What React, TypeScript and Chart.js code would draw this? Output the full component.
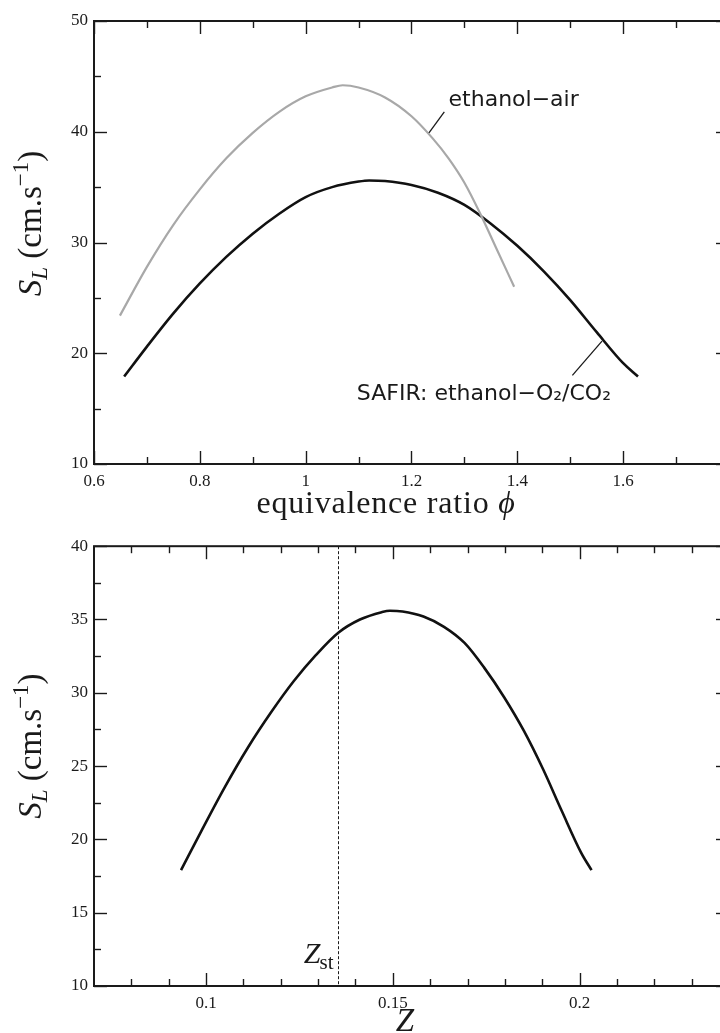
import React, { useEffect, useRef } from "react";
import { Chart, registerables } from "chart.js";

Chart.register(...registerables);

// ---------- data ----------
// top panel: S_L vs equivalence ratio
const PHI_SAFIR = [0.657, 0.70, 0.75, 0.80, 0.85, 0.90, 0.95, 1.00, 1.05, 1.10, 1.12, 1.15, 1.20, 1.25, 1.30, 1.35, 1.40, 1.45, 1.50, 1.55, 1.60, 1.628];
const SL_SAFIR = [17.9, 20.6, 23.6, 26.3, 28.7, 30.8, 32.6, 34.1, 35.0, 35.5, 35.6, 35.55, 35.2, 34.5, 33.4, 31.7, 29.7, 27.4, 24.8, 21.9, 19.1, 17.9];
const PHI_AIR = [0.649, 0.70, 0.75, 0.80, 0.85, 0.90, 0.95, 1.00, 1.05, 1.07, 1.10, 1.15, 1.20, 1.24, 1.27, 1.30, 1.33, 1.36, 1.394];
const SL_AIR = [23.4, 27.8, 31.6, 34.8, 37.6, 39.9, 41.8, 43.2, 44.0, 44.2, 44.0, 43.1, 41.4, 39.4, 37.6, 35.4, 32.6, 29.5, 26.0];

// bottom panel: S_L vs mixture fraction Z
const Z_SAFIR = [0.0933, 0.0988, 0.1051, 0.1113, 0.1175, 0.1235, 0.1295, 0.1354, 0.1412, 0.1470, 0.1492, 0.1526, 0.1582, 0.1637, 0.1692, 0.1745, 0.1798, 0.1851, 0.1902, 0.1953, 0.2004, 0.2032];
const SL_Z_SAFIR = [17.9, 20.6, 23.6, 26.3, 28.7, 30.8, 32.6, 34.1, 35.0, 35.5, 35.6, 35.55, 35.2, 34.5, 33.4, 31.7, 29.7, 27.4, 24.8, 21.9, 19.1, 17.9];
const Z_ST = 0.1354;

// ticks
const TOP_X_LABELS = [0.6, 0.8, 1.0, 1.2, 1.4, 1.6];
const TOP_X_MAJOR = [0.6, 0.8, 1.0, 1.2, 1.4, 1.6, 1.8];
const TOP_X_MINOR = [0.7, 0.9, 1.1, 1.3, 1.5, 1.7];
const TOP_Y_MAJOR = [10, 20, 30, 40, 50];
const TOP_Y_MINOR = [15, 25, 35, 45];
const BOT_X_LABELS = [0.1, 0.15, 0.2];
const BOT_X_MAJOR = [0.1, 0.15, 0.2];
const BOT_X_MINOR = [0.08, 0.09, 0.11, 0.12, 0.13, 0.14, 0.16, 0.17, 0.18, 0.19, 0.21, 0.22, 0.23];
const BOT_Y_MAJOR = [10, 15, 20, 25, 30, 35, 40];
const BOT_Y_MINOR = [12.5, 17.5, 22.5, 27.5, 32.5, 37.5];

const LABEL_AIR = "ethanol\u2212air";
const LABEL_SAFIR = "SAFIR: ethanol\u2212O\u2082/CO\u2082";

const SERIF = "'Liberation Serif', 'DejaVu Serif', serif";
const SANS = "'DejaVu Sans', 'Bitstream Vera Sans', sans-serif";
const INK = "#1a1a1a";

type Part = { t: string; font: string; dy?: number };

function measureRich(ctx: CanvasRenderingContext2D, parts: Part[]) {
  let w = 0;
  for (const p of parts) {
    ctx.font = p.font;
    w += ctx.measureText(p.t).width;
  }
  return w;
}

function drawRich(ctx: CanvasRenderingContext2D, parts: Part[], cx: number, baseY: number) {
  let x = cx - measureRich(ctx, parts) / 2;
  ctx.textAlign = "left";
  ctx.textBaseline = "alphabetic";
  for (const p of parts) {
    ctx.font = p.font;
    ctx.fillText(p.t, x, baseY + (p.dy || 0));
    x += ctx.measureText(p.t).width;
  }
}

function yTitleParts(): Part[] {
  return [
    { t: "S", font: `italic 33px ${SERIF}` },
    { t: "L", font: `italic 23px ${SERIF}`, dy: 6 },
    { t: " (cm.s", font: `33px ${SERIF}` },
    { t: "\u22121", font: `23px ${SERIF}`, dy: -13 },
    { t: ")", font: `33px ${SERIF}` },
  ];
}

function drawFrame(
  ctx: CanvasRenderingContext2D,
  area: { left: number; right: number; top: number; bottom: number },
  xs: any,
  ys: any,
  xMaj: number[],
  xMin: number[],
  yMaj: number[],
  yMin: number[]
) {
  const { left, right, top, bottom } = area;
  ctx.save();
  ctx.strokeStyle = INK;
  ctx.lineWidth = 1.4;
  const seg = (x1: number, y1: number, x2: number, y2: number) => {
    ctx.beginPath();
    ctx.moveTo(x1, y1);
    ctx.lineTo(x2, y2);
    ctx.stroke();
  };
  const xt = (vals: number[], len: number) =>
    vals.forEach((v) => {
      const p = Math.round(xs.getPixelForValue(v)) + 0.5;
      seg(p, bottom, p, bottom - len);
      seg(p, top, p, top + len);
    });
  const yt = (vals: number[], len: number) =>
    vals.forEach((v) => {
      const p = Math.round(ys.getPixelForValue(v)) + 0.5;
      seg(left, p, left + len, p);
      seg(right, p, right - len, p);
    });
  xt(xMaj, 13);
  xt(xMin, 7);
  yt(yMaj, 13);
  yt(yMin, 7);
  ctx.lineWidth = 2;
  ctx.strokeRect(left, top, right - left, bottom - top);
  ctx.restore();
}

function xAxis(min: number, max: number, labels: number[], height: number) {
  return {
    type: "linear" as const,
    position: "bottom" as const,
    min,
    max,
    grid: { display: false, drawTicks: false },
    border: { display: false },
    afterBuildTicks: (s: any) => {
      s.ticks = labels.map((v) => ({ value: v }));
    },
    afterFit: (s: any) => {
      s.height = height;
    },
    ticks: {
      autoSkip: false,
      maxRotation: 0,
      minRotation: 0,
      padding: 7,
      color: INK,
      font: { family: SERIF, size: 17 },
      callback: (v: any) => String(+Number(v).toFixed(3)),
    },
  };
}

function yAxis(min: number, max: number, major: number[]) {
  return {
    type: "linear" as const,
    position: "left" as const,
    min,
    max,
    grid: { display: false, drawTicks: false },
    border: { display: false },
    afterBuildTicks: (s: any) => {
      s.ticks = major.map((v) => ({ value: v }));
    },
    afterFit: (s: any) => {
      s.width = 94;
    },
    ticks: {
      autoSkip: false,
      padding: 6,
      color: INK,
      font: { family: SERIF, size: 17 },
      callback: (v: any) => String(v),
    },
  };
}

function series(xs: number[], ys: number[], color: string, width: number) {
  return {
    data: xs.map((x, i) => ({ x, y: ys[i] })),
    showLine: true,
    borderColor: color,
    backgroundColor: color,
    borderWidth: width,
    pointRadius: 0,
    cubicInterpolationMode: "monotone" as const,
    fill: false,
  };
}

function drawYTitle(ctx: CanvasRenderingContext2D, baseX: number, cy: number) {
  ctx.save();
  ctx.fillStyle = INK;
  ctx.translate(baseX, cy);
  ctx.rotate(-Math.PI / 2);
  drawRich(ctx, yTitleParts(), 0, 0);
  ctx.restore();
}

const topDeco = {
  id: "topDeco",
  afterDatasetsDraw(chart: any) {
    const { ctx, chartArea } = chart;
    const xs = chart.scales.x;
    const ys = chart.scales.y;
    drawFrame(ctx, chartArea, xs, ys, TOP_X_MAJOR, TOP_X_MINOR, TOP_Y_MAJOR, TOP_Y_MINOR);
    const P = (x: number, y: number) => [xs.getPixelForValue(x), ys.getPixelForValue(y)];
    ctx.save();
    ctx.strokeStyle = INK;
    ctx.lineWidth = 1.3;
    // pointer ethanol-air
    let a = P(1.233, 39.9);
    let b = P(1.262, 41.8);
    ctx.beginPath();
    ctx.moveTo(a[0], a[1]);
    ctx.lineTo(b[0], b[1]);
    ctx.stroke();
    // pointer SAFIR
    a = P(1.56, 21.1);
    b = P(1.504, 18.0);
    ctx.beginPath();
    ctx.moveTo(a[0], a[1]);
    ctx.lineTo(b[0], b[1]);
    ctx.stroke();
    ctx.fillStyle = INK;
    ctx.font = `22px ${SANS}`;
    ctx.textBaseline = "alphabetic";
    ctx.textAlign = "left";
    const t1 = P(1.27, 42.3);
    ctx.fillText(LABEL_AIR, t1[0], t1[1]);
    ctx.textAlign = "right";
    const t2 = P(1.577, 15.8);
    ctx.fillText(LABEL_SAFIR, t2[0], t2[1]);
    // x title
    (ctx as any).letterSpacing = "0.8px";
    drawRich(
      ctx,
      [
        { t: "equivalence ratio ", font: `32px ${SERIF}` },
        { t: "\u03d5", font: `italic 32px ${SERIF}` },
      ],
      386,
      513
    );
    (ctx as any).letterSpacing = "0px";
    ctx.restore();
    drawYTitle(ctx, 41, (chartArea.top + chartArea.bottom) / 2 - 19);
  },
};

const botDeco = {
  id: "botDeco",
  afterDatasetsDraw(chart: any) {
    const { ctx, chartArea } = chart;
    const xs = chart.scales.x;
    const ys = chart.scales.y;
    // stoichiometric line
    ctx.save();
    const px = Math.round(xs.getPixelForValue(Z_ST)) + 0.5;
    ctx.strokeStyle = INK;
    ctx.lineWidth = 1;
    ctx.setLineDash([3, 2]);
    ctx.beginPath();
    ctx.moveTo(px, chartArea.top);
    ctx.lineTo(px, chartArea.bottom);
    ctx.stroke();
    ctx.restore();
    drawFrame(ctx, chartArea, xs, ys, BOT_X_MAJOR, BOT_X_MINOR, BOT_Y_MAJOR, BOT_Y_MINOR);
    ctx.save();
    ctx.fillStyle = INK;
    // Z_st label, right-aligned just left of the dashed line
    ctx.textBaseline = "alphabetic";
    ctx.textAlign = "left";
    ctx.font = `21px ${SERIF}`;
    const sw = ctx.measureText("st").width;
    ctx.font = `italic 30px ${SERIF}`;
    const zw = ctx.measureText("Z").width;
    const endX = px - 5;
    const zx = endX - sw - zw + 1;
    ctx.fillText("Z", zx, 433);
    ctx.font = `21px ${SERIF}`;
    ctx.fillText("st", zx + zw - 1, 439);
    // x title
    drawRich(ctx, [{ t: "Z", font: `italic 33px ${SERIF}` }], 405, 501);
    ctx.restore();
    drawYTitle(ctx, 41, (chartArea.top + chartArea.bottom) / 2 - 20);
  },
};

function baseOptions(padTop: number, x: any, y: any) {
  return {
    responsive: false,
    maintainAspectRatio: false,
    animation: false as const,
    devicePixelRatio: 1,
    layout: { padding: { top: padTop, right: 11, left: 0, bottom: 0 } },
    plugins: { legend: { display: false }, tooltip: { enabled: false }, title: { display: false } },
    scales: { x, y },
    events: [] as any[],
  };
}

export default function App() {
  const topRef = useRef<HTMLCanvasElement>(null);
  const botRef = useRef<HTMLCanvasElement>(null);

  useEffect(() => {
    const c1 = new Chart(topRef.current as HTMLCanvasElement, {
      type: "scatter",
      data: {
        datasets: [
          series(PHI_AIR, SL_AIR, "#a8a8a8", 2.2),
          series(PHI_SAFIR, SL_SAFIR, "#111111", 2.6),
        ],
      },
      options: baseOptions(21, xAxis(0.6, 1.8, TOP_X_LABELS, 66), yAxis(10, 50, TOP_Y_MAJOR)) as any,
      plugins: [topDeco],
    });
    const c2 = new Chart(botRef.current as HTMLCanvasElement, {
      type: "scatter",
      data: {
        datasets: [series(Z_SAFIR, SL_Z_SAFIR, "#111111", 2.6)],
      },
      options: baseOptions(14, xAxis(0.07, 0.24, BOT_X_LABELS, 47), yAxis(10, 40, BOT_Y_MAJOR)) as any,
      plugins: [botDeco],
    });
    return () => {
      c1.destroy();
      c2.destroy();
    };
  }, []);

  return (
    <div
      style={{
        position: "absolute",
        left: 0,
        top: 0,
        width: 720,
        height: 1033,
        overflow: "hidden",
        background: "#ffffff",
      }}
    >
      <canvas
        ref={topRef}
        width={740}
        height={530}
        style={{ position: "absolute", left: 0, top: 0, width: 740, height: 530 }}
      />
      <canvas
        ref={botRef}
        width={740}
        height={503}
        style={{ position: "absolute", left: 0, top: 530, width: 740, height: 503 }}
      />
    </div>
  );
}
